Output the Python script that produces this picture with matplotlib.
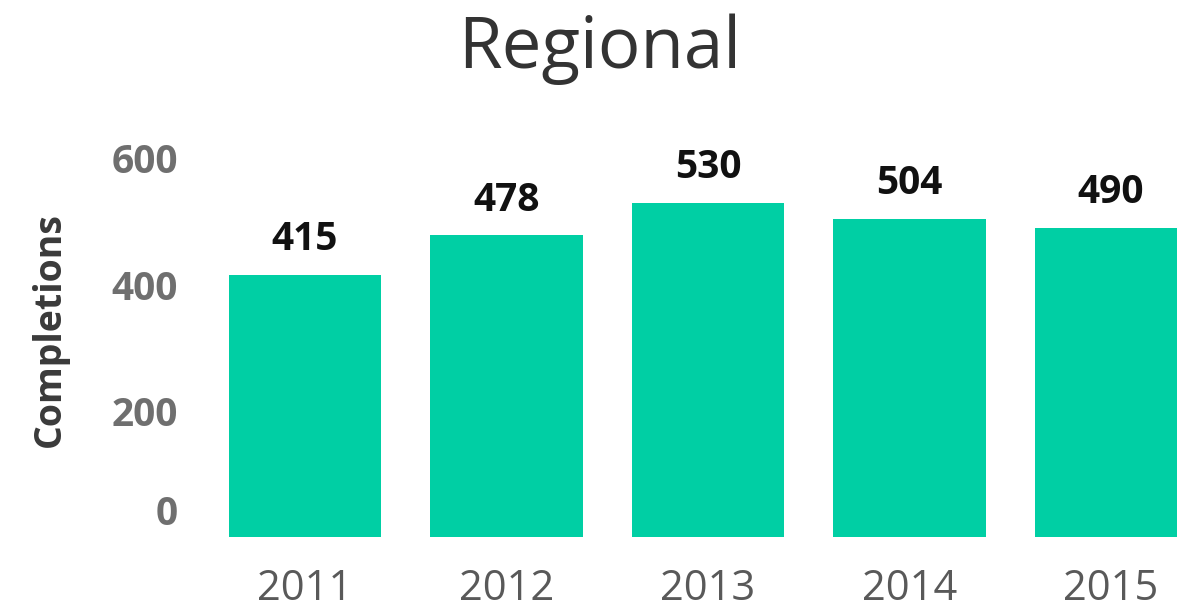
import matplotlib
matplotlib.use("Agg")
import matplotlib.pyplot as plt
import matplotlib.transforms as mtransforms

years = ["2011", "2012", "2013", "2014", "2015"]
completions = [415, 478, 530, 504, 490]
yticks = [0, 200, 400, 600]

W, H = 1177, 615
fig = plt.figure(figsize=(W / 100, H / 100), dpi=100)
fig.patch.set_facecolor("white")

left_px, right_px, bot_px, top_px = 200, 1177, 537, 100
ax = fig.add_axes([left_px / W, 1 - bot_px / H, (right_px - left_px) / W, (bot_px - top_px) / H])

x = list(range(len(years)))
ax.bar(x, completions, width=0.755, color="#00CFA4", zorder=2)

c0 = 305.0
sp = 201.5
ax.set_xlim((left_px - c0) / sp, (right_px - c0) / sp)
ax.set_ylim(0, (bot_px - top_px) / 0.631)

font = "Open Sans"
for xi, v in zip(x, completions):
    ax.text(xi, v + 25, str(v), ha="center", va="bottom", fontsize=28,
            fontweight="bold", color="#111111", family=font)

ax.set_xticks(x)
ax.set_xticklabels(years, fontsize=30, color="#595959", family=font)
ax.set_yticks(yticks)
ax.set_yticklabels([str(t) for t in yticks], fontsize=28, fontweight="bold",
                   color="#6f6f6f", family=font)
ax.tick_params(axis="both", length=0)
ax.tick_params(axis="x", pad=22)
ax.tick_params(axis="y", pad=16)
lbl0 = ax.get_yticklabels()[0]
lbl0.set_transform(lbl0.get_transform() + mtransforms.ScaledTranslation(0, 27 / 100, fig.dpi_scale_trans))

for s in ax.spines.values():
    s.set_visible(False)

fig.text(50 / W, 1 - 330 / H, "Completions", rotation=90, ha="center", va="center",
         fontsize=27, fontweight="bold", color="#3a3a3a", family=font)

fig.text(600 / W, 1 - 68 / H, "Regional", ha="center", va="baseline", fontsize=51,
         color="#333333", family=font)

fig.savefig("out.png", dpi=100)
